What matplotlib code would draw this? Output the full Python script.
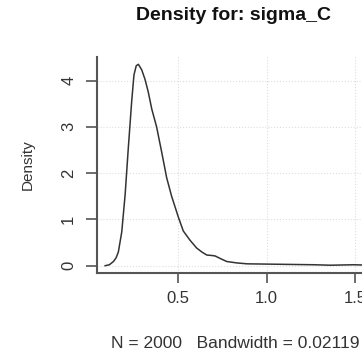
import numpy as np
import matplotlib
matplotlib.use("Agg")
import matplotlib.pyplot as plt

plt.rcParams['font.family'] = ['Liberation Sans', 'DejaVu Sans']

# densidad (valor x, densidad)
x_vals = [0.086, 0.110, 0.133, 0.148, 0.161, 0.180, 0.199, 0.217, 0.236, 0.249,
          0.262, 0.274, 0.293, 0.312, 0.330, 0.350, 0.377, 0.406, 0.434, 0.462,
          0.500, 0.528, 0.566, 0.604, 0.635, 0.661, 0.690, 0.708, 0.740, 0.774,
          0.830, 0.889, 1.08, 1.27, 1.36, 1.49, 1.543]
dens = [0.0, 0.02, 0.09, 0.17, 0.30, 0.73, 1.53, 2.54, 3.54, 4.12,
        4.32, 4.35, 4.23, 4.02, 3.75, 3.38, 3.00, 2.45, 1.90, 1.50,
        1.05, 0.75, 0.55, 0.38, 0.29, 0.23, 0.22, 0.21, 0.15, 0.09,
        0.06, 0.04, 0.03, 0.02, 0.01, 0.02, 0.015]
xticks = [0.5, 1.0, 1.5]
yticks = [0, 1, 2, 3, 4]

fig = plt.figure(figsize=(3.62, 3.51), dpi=100)
ax = fig.add_axes([97/362, 78/351, 276/362, 216/351])

ax.plot(x_vals, dens, color='#333333', lw=1.1, solid_joinstyle='round')

ax.set_xlim(0.040, 1.601)
ax.set_ylim(-0.158, 4.508)
ax.set_xticks(xticks)
ax.set_xticklabels(['0.5', '1.0', '1.5'])
ax.set_yticks(yticks)
ax.set_yticklabels([str(v) for v in yticks], rotation=90, va='center')

ax.grid(True, color='#dddddd', linestyle=':', lw=0.8)
for s in ['top', 'right']:
    ax.spines[s].set_visible(False)
for s in ['left', 'bottom']:
    ax.spines[s].set_color('#555555')
    ax.spines[s].set_linewidth(1.5)

ax.tick_params(axis='both', colors='#555555', width=1.2, labelcolor='#333333', labelsize=12)
ax.tick_params(axis='y', length=8, pad=7)
ax.tick_params(axis='x', length=7, pad=6)

fig.text(234/362, 1 - 15/351, 'Density for: sigma_C', ha='center', va='center',
         fontsize=14, fontweight='bold', color='#111111')
fig.text(28/362, 1 - 165/351, 'Density', rotation=90, ha='center', va='center',
         fontsize=11, color='#333333')
fig.text(235/362, 1 - 343/351, 'N = 2000   Bandwidth = 0.02119', ha='center', va='center',
         fontsize=12.5, color='#333333')

fig.savefig('out.png', dpi=100)
